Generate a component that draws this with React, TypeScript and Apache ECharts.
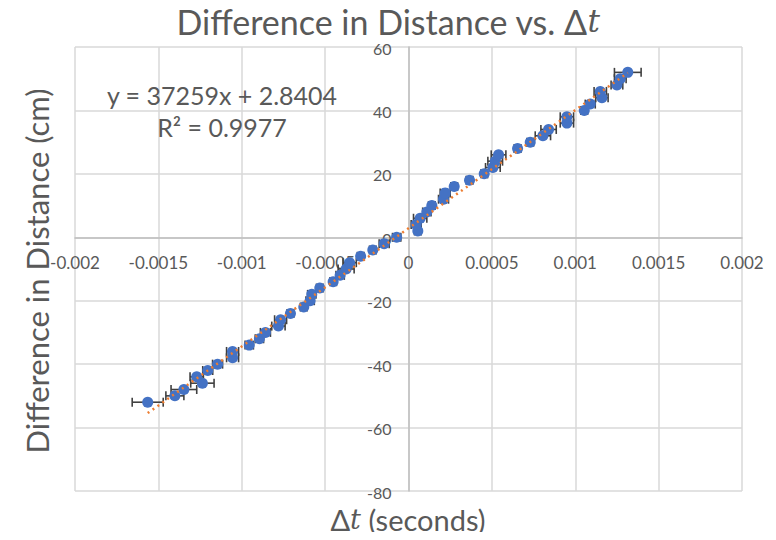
import React, { useEffect, useRef } from "react";
import * as echarts from "echarts";

// Δt (seconds), distance difference (cm), horizontal error in Δt (seconds)
const deltaT = [
  -0.001564, -0.001401, -0.001347, -0.001236, -0.00127, -0.001204, -0.001145, -0.001055, -0.001055,
  -0.000955, -0.000894, -0.000858, -0.00078, -0.000767, -0.000708, -0.000628, -0.00059, -0.00058,
  -0.000532, -0.000452, -0.00041, -0.000374, -0.000353, -0.000287, -0.000214, -0.000146, -0.000071,
  0.000056, 0.000046, 0.00007, 0.00011, 0.00014, 0.00021, 0.00022, 0.000274, 0.000366, 0.000454,
  0.000506, 0.00052, 0.00054, 0.000654, 0.00073, 0.000806, 0.00084, 0.00095, 0.00095, 0.001054,
  0.00109, 0.00116, 0.00115, 0.00125, 0.00127, 0.001315,
];
const distance = [
  -52, -50, -48, -46, -44, -42, -40, -38, -36, -34, -32, -30, -28, -26, -24, -22, -20, -18, -16, -14,
  -12, -10, -8, -6, -4, -2, 0, 2, 4, 6, 8, 10, 12, 14, 16, 18, 20, 22, 24, 26, 28, 30, 32, 34, 36, 38,
  40, 42, 44, 46, 48, 50, 52,
];
const deltaTErr = [
  0.000093, 0.000054, 0.000077, 0.00007, 0.00004, 0.00003, 0.00003, 0.000036, 0.000036, 0.000025,
  0.000025, 0.00003, 0.00004, 0.000036, 0.00002, 0.00002, 0.000025, 0.000025, 0.00002, 0.00002,
  0.000025, 0.000048, 0.00004, 0.00002, 0.00002, 0.00003, 0.000025, 0.00002, 0.00003, 0.00004,
  0.000025, 0.00002, 0.00003, 0.00003, 0.00002, 0.00002, 0.00002, 0.000044, 0.000044, 0.000044,
  0.00002, 0.00002, 0.000046, 0.000046, 0.00004, 0.00004, 0.00002, 0.00003, 0.000037, 0.000037,
  0.000035, 0.000035, 0.00008,
];

// Trendline as displayed on the chart
const trendSlope = 37259;
const trendIntercept = 2.8404;
const equationLines = ["y = 37259x + 2.8404", "R² = 0.9977"];

// Axis ticks
const xTickValues = [-0.002, -0.0015, -0.001, -0.0005, 0, 0.0005, 0.001, 0.0015, 0.002];
const xTickLabels = ["-0.002", "-0.0015", "-0.001", "-0.0005", "0", "0.0005", "0.001", "0.0015", "0.002"];
const yTickValues = [-80, -60, -40, -20, 0, 20, 40, 60];
const yTickLabels = ["-80", "-60", "-40", "-20", "0", "20", "40", "60"];
const xStep = 0.0005;
const yStep = 20;

const FONT = "Lato, 'Open Sans', sans-serif";
const TEXT = "#595959";

export default function App() {
  const ref = useRef<HTMLDivElement>(null);
  useEffect(() => {
    if (!ref.current) return;
    const chart = echarts.init(ref.current, undefined, { renderer: "svg" });
    const points = deltaT.map((t, i) => [t, distance[i]]);
    const errData = deltaT.map((t, i) => [t, distance[i], deltaTErr[i]]);
    const tMin = Math.min(...deltaT);
    const tMax = Math.max(...deltaT);
    const trend = [
      [tMin, trendSlope * tMin + trendIntercept],
      [tMax, trendSlope * tMax + trendIntercept],
    ];
    chart.setOption({
      animation: false,
      backgroundColor: "#ffffff",
      grid: { left: 75, right: 34, top: 47, bottom: 49 },
      xAxis: {
        type: "value",
        min: xTickValues[0],
        max: xTickValues[xTickValues.length - 1],
        interval: xStep,
        axisLine: { onZero: true, lineStyle: { color: "#bfbfbf", width: 1.5 } },
        axisTick: { show: false },
        splitLine: { lineStyle: { color: "#d9d9d9", width: 1.5 } },
        axisLabel: { show: false },
      },
      yAxis: {
        type: "value",
        min: yTickValues[0],
        max: yTickValues[yTickValues.length - 1],
        interval: yStep,
        axisLine: { show: true, onZero: true, lineStyle: { color: "#bfbfbf", width: 1.5 } },
        axisTick: { show: false },
        splitLine: { lineStyle: { color: "#d9d9d9", width: 1.5 } },
        axisLabel: { show: false },
      },
      series: [
        {
          type: "custom",
          data: errData,
          encode: { x: 0, y: 1 },
          z: 2,
          renderItem: (_p: any, api: any) => {
            const x = api.value(0);
            const y = api.value(1);
            const e = api.value(2);
            const l = api.coord([x - e, y]);
            const r = api.coord([x + e, y]);
            const h = 4.5;
            const st = { stroke: "#404040", lineWidth: 1.6 };
            return {
              type: "group",
              children: [
                { type: "line", shape: { x1: l[0], y1: l[1], x2: r[0], y2: r[1] }, style: st },
                { type: "line", shape: { x1: l[0], y1: l[1] - h, x2: l[0], y2: l[1] + h }, style: st },
                { type: "line", shape: { x1: r[0], y1: r[1] - h, x2: r[0], y2: r[1] + h }, style: st },
              ],
            };
          },
        },
        {
          type: "scatter",
          data: points,
          symbolSize: 11,
          z: 3,
          itemStyle: { color: "#4472C4", opacity: 1 },
        },
        {
          type: "line",
          data: trend,
          showSymbol: false,
          symbol: "none",
          z: 4,
          lineStyle: { color: "#ED7D31", width: 2.5, type: [2, 4] },
        },
      ],
    });

    const origin = chart.convertToPixel({ gridIndex: 0 }, [0, 0]) as number[];
    const tickTexts: any[] = [];
    xTickValues.forEach((v, i) => {
      const p = chart.convertToPixel({ gridIndex: 0 }, [v, 0]) as number[];
      tickTexts.push({
        type: "text",
        x: p[0],
        y: origin[1] + 25,
        z: 1,
        style: {
          text: xTickLabels[i],
          align: "center",
          verticalAlign: "middle",
          fontFamily: FONT,
          fontSize: 17,
          fill: TEXT,
        },
      });
    });
    yTickValues.forEach((v, i) => {
      const p = chart.convertToPixel({ gridIndex: 0 }, [0, v]) as number[];
      tickTexts.push({
        type: "text",
        x: origin[0] - 17,
        y: p[1] + 1,
        z: 1,
        style: {
          text: yTickLabels[i],
          align: "right",
          verticalAlign: "middle",
          fontFamily: FONT,
          fontSize: 16,
          fill: TEXT,
        },
      });
    });

    chart.setOption({
      graphic: [
        ...tickTexts,
        {
          type: "text",
          x: 388,
          y: 21,
          style: {
            text: "{a|Difference in Distance vs. Δ}{b|t}",
            align: "center",
            verticalAlign: "middle",
            rich: {
              a: { fontFamily: FONT, fontSize: 34, fill: TEXT, lineHeight: 34 },
              b: { fontFamily: "'DejaVu Serif', serif", fontStyle: "italic", fontSize: 31, fill: TEXT, lineHeight: 34 },
            },
          },
        },
        {
          type: "text",
          x: 408,
          y: 519,
          style: {
            text: "{a|Δ}{b|t}{a| (seconds)}",
            align: "center",
            verticalAlign: "middle",
            rich: {
              a: { fontFamily: FONT, fontSize: 29, fill: TEXT, lineHeight: 30 },
              b: { fontFamily: "'DejaVu Serif', serif", fontStyle: "italic", fontSize: 27, fill: TEXT, lineHeight: 30 },
            },
          },
        },
        {
          type: "text",
          x: 37,
          y: 271,
          rotation: Math.PI / 2,
          style: {
            text: "Difference in Distance (cm)",
            align: "center",
            verticalAlign: "middle",
            fontFamily: FONT,
            fontSize: 31,
            fill: TEXT,
          },
        },
        {
          type: "text",
          x: 222,
          y: 95,
          style: {
            text: equationLines[0],
            align: "center",
            verticalAlign: "middle",
            fontFamily: FONT,
            fontSize: 25,
            fill: TEXT,
          },
        },
        {
          type: "text",
          x: 222,
          y: 127,
          style: {
            text: equationLines[1],
            align: "center",
            verticalAlign: "middle",
            fontFamily: FONT,
            fontSize: 25,
            fill: TEXT,
          },
        },
      ],
    });
    return () => chart.dispose();
  }, []);
  return <div ref={ref} style={{ width: 776, height: 540, margin: -8 }} />;
}
